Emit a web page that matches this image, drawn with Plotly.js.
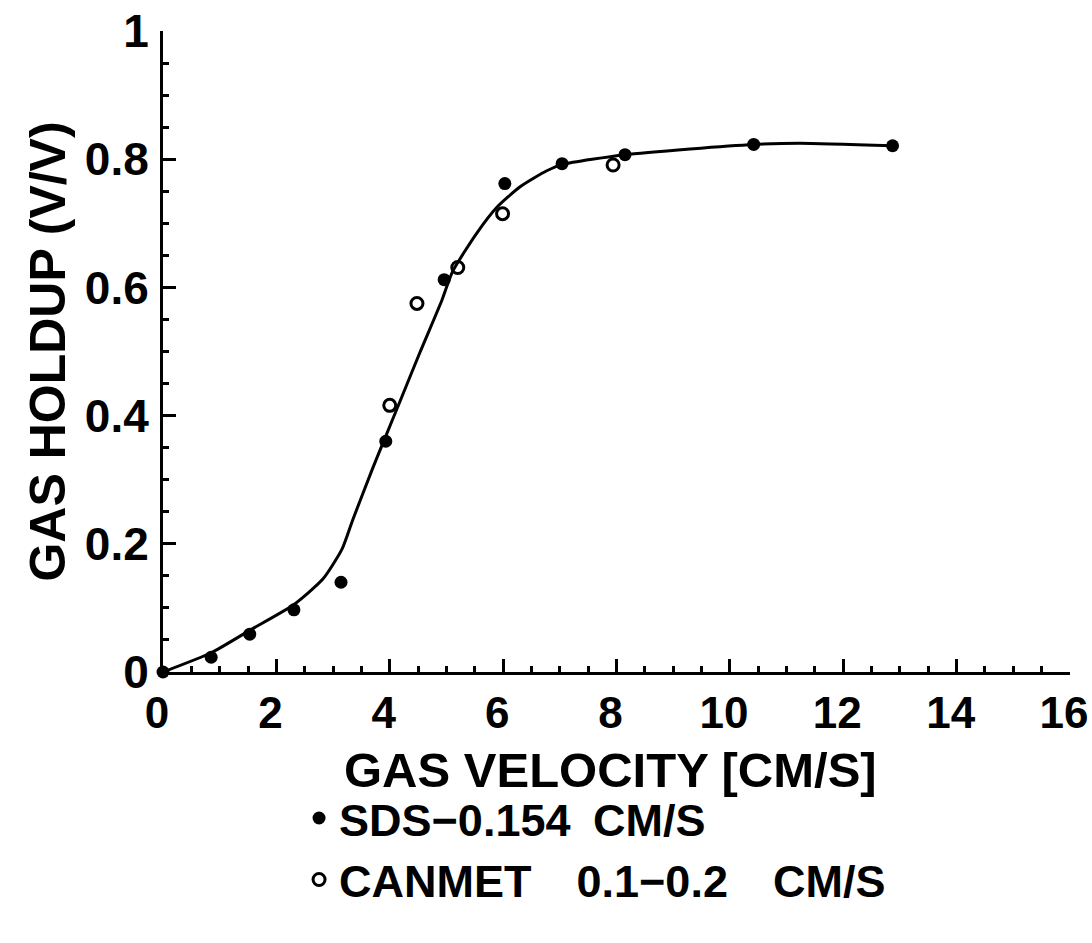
<!DOCTYPE html>
<html>
<head>
<meta charset="utf-8">
<script src="https://cdn.plot.ly/plotly-3.0.1.min.js"></script>
<style>html,body{margin:0;padding:0;background:#fff;}#chart{width:1092px;height:943px;}</style>
</head>
<body>
<div id="chart"></div>
<script>
// SDS points (filled)
const sdsX = [0, 0.85, 1.53, 2.31, 3.14, 3.93, 4.96, 6.03, 7.04, 8.15, 10.42, 12.87];
const sdsY = [0, 0.023, 0.059, 0.097, 0.140, 0.360, 0.612, 0.762, 0.793, 0.807, 0.823, 0.821];
// CANMET points (open)
const canX = [4.00, 4.48, 5.20, 5.99, 7.94];
const canY = [0.416, 0.575, 0.631, 0.715, 0.791];
// fitted curve
const curveX = [0, 0.85, 1.53, 2.29, 2.82, 3.16, 3.35, 3.70, 3.93, 4.18, 4.53, 4.92, 5.11, 5.53, 5.89, 6.30, 6.77, 7.05, 8.15, 9.3, 10.42, 11.23, 12.87];
const curveY = [0, 0.030, 0.065, 0.104, 0.145, 0.192, 0.238, 0.318, 0.368, 0.422, 0.498, 0.580, 0.625, 0.684, 0.725, 0.757, 0.782, 0.792, 0.807, 0.816, 0.823, 0.825, 0.821];
const xTicks = [0, 2, 4, 6, 8, 10, 12, 14, 16];
const xTickText = ['0', '2', '4', '6', '8', '10', '12', '14', '16'];
const yTicks = [0, 0.2, 0.4, 0.6, 0.8, 1];
const yTickText = ['0', '0.2', '0.4', '0.6', '0.8', '1'];
const xTitle = 'GAS VELOCITY [CM/S]';
const yTitle = 'GAS HOLDUP (V/V)';
const names = ['SDS\u22120.154\u2002CM/S', 'CANMET\u20030.1\u22120.2\u2003CM/S'];

const FONT = 'Liberation Sans, Arial, sans-serif';
const traces = [
  {x: curveX, y: curveY, mode: 'lines', line: {color: '#000', width: 3, shape: 'spline', smoothing: 0.6}, showlegend: false, cliponaxis: false, hoverinfo: 'skip'},
  {x: sdsX, y: sdsY, mode: 'markers', name: names[0], marker: {symbol: 'circle', size: 13, color: '#000'}, cliponaxis: false},
  {x: canX, y: canY, mode: 'markers', name: names[1], marker: {symbol: 'circle-open', size: 12, color: '#000', line: {width: 3, color: '#000'}}, cliponaxis: false}
];
const layout = {
  width: 1092, height: 943,
  margin: {l: 163, r: 22, t: 31, b: 271},
  paper_bgcolor: '#fff', plot_bgcolor: '#fff',
  font: {family: FONT, color: '#000', size: 44, weight: 'bold'},
  showlegend: true,
  legend: {x: 0.15, xanchor: 'left', y: -0.172, yanchor: 'top', font: {family: FONT, size: 45, color: '#000', weight: 'bold'}, bgcolor: 'rgba(0,0,0,0)', itemwidth: 30, tracegroupgap: 0},
  annotations: [
    {text: xTitle, xref: 'paper', yref: 'paper', x: 0.493, y: -0.153, xanchor: 'center', yanchor: 'middle', showarrow: false, font: {family: FONT, size: 49, weight: 'bold', color: '#000'}}
  ],
  xaxis: {
    range: [0, 16], showgrid: false, zeroline: false, showline: true, linecolor: '#000', linewidth: 3,
    ticks: 'inside', ticklen: 13, tickwidth: 3, tickcolor: '#000',
    tickvals: xTicks, ticktext: xTickText, tickfont: {family: FONT, size: 44, weight: 'bold'},
    ticklabelstandoff: 0, ticklabelshift: -6, ticklabeloverflow: 'allow',
    minor: {dtick: 0.5, ticks: 'inside', ticklen: 6, tickwidth: 3, tickcolor: '#000', showgrid: false}
  },
  yaxis: {
    range: [0, 1], showgrid: false, zeroline: false, showline: true, linecolor: '#000', linewidth: 3,
    ticks: 'inside', ticklen: 13, tickwidth: 3, tickcolor: '#000',
    tickvals: yTicks, ticktext: yTickText, tickfont: {family: FONT, size: 46, weight: 'bold'},
    ticklabelstandoff: 2,
    minor: {dtick: 0.05, ticks: 'inside', ticklen: 6, tickwidth: 3, tickcolor: '#000', showgrid: false},
    title: {text: yTitle, font: {family: FONT, size: 50, weight: 'bold'}, standoff: 4}
  }
};
Plotly.newPlot('chart', traces, layout, {staticPlot: true, displayModeBar: false});
</script>
</body>
</html>
